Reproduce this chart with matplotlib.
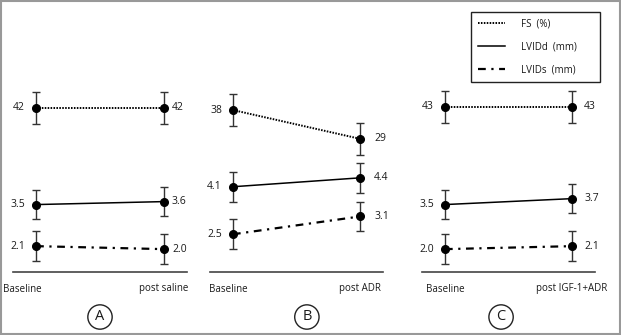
import numpy as np
import matplotlib
matplotlib.use("Agg")
import matplotlib.pyplot as plt
from matplotlib.lines import Line2D
from matplotlib.patches import Rectangle

plt.rcParams['font.family'] = ['Open Sans', 'DejaVu Sans']
plt.rcParams['font.size'] = 7

# data
panels = ['A', 'B', 'C']
post_labels = ['post saline', 'post ADR', 'post IGF-1+ADR']
fs = [[42, 42], [38, 29], [43, 43]]            # FS (%)
lvidd = [[3.5, 3.6], [4.1, 4.4], [3.5, 3.7]]   # LVIDd (mm)
lvids = [[2.1, 2.0], [2.5, 3.1], [2.0, 2.1]]   # LVIDs (mm)
fs_err = 5.0
mm_err = 0.5

# layout (figure pixels: left, right of the baseline rule)
px_w, px_h = 621, 335
rules = [(13, 187), (210, 383), (422, 595)]
rule_y, top_y = 272, 10
fs_lims = [(-9.25, 72.6), (-12.6, 69.25), (-8.6, 73.3)]
mm_lim = (1.23, 10.05)
right_off = [8, 14, 12]
left_lab_off = [-14, -5, 0]
circle_x = [0.50, 0.56, 0.457]

ink = '#1a1a1a'
fs_style = dict(linestyle=(0, (0.8, 0.7)), linewidth=1.4)
d_style = dict(linestyle='-', linewidth=1.1)
s_style = dict(linestyle=(0, (3.5, 2.5, 1, 2.5)), linewidth=1.6)

fig = plt.figure(figsize=(px_w / 100, px_h / 100), dpi=100)
fig.patches.append(Rectangle((0.0015, 0.003), 0.997, 0.994, transform=fig.transFigure,
                             fill=False, ec='#999999', lw=1.5))

x = [0, 1]
for i, (l, r) in enumerate(rules):
    ax = fig.add_axes([l / px_w, (px_h - rule_y) / px_h, (r - l) / px_w,
                       (rule_y - top_y) / px_h])
    ax2 = ax.twinx()
    for a in (ax, ax2):
        a.set_xlim(-0.18, 1.18)
        a.set_xticks([])
        a.set_yticks([])
        for s in a.spines.values():
            s.set_visible(False)
        a.patch.set_visible(False)
    ax.spines['bottom'].set_visible(True)
    ax.spines['bottom'].set_color('#444444')
    ax.spines['bottom'].set_linewidth(1.2)
    ax.set_ylim(*mm_lim)
    ax2.set_ylim(*fs_lims[i])

    eb = dict(color='black', marker='o', markersize=5.5, ecolor='#333333',
              elinewidth=1.0, capsize=3, capthick=1.0)
    ax2.errorbar(x, fs[i], yerr=fs_err, **fs_style, **eb)
    ax.errorbar(x, lvidd[i], yerr=mm_err, **d_style, **eb)
    ax.errorbar(x, lvids[i], yerr=mm_err, **s_style, **eb)

    for a, vals, fmt in ((ax2, fs[i], '{:d}'), (ax, lvidd[i], '{:.1f}'),
                         (ax, lvids[i], '{:.1f}')):
        a.annotate(fmt.format(vals[0]), (0, vals[0]), xytext=(-11, 0),
                   textcoords='offset pixels', ha='right', va='center', color=ink,
                   fontsize=7.5)
        a.annotate(fmt.format(vals[1]), (1, vals[1]), xytext=(right_off[i], 0),
                   textcoords='offset pixels', ha='left', va='center', color=ink,
                   fontsize=7.5)

    ax.annotate('Baseline', (0, mm_lim[0]), xytext=(left_lab_off[i], -17),
                textcoords='offset pixels', ha='center', va='center', color=ink)
    ax.annotate(post_labels[i], (1, mm_lim[0]), xytext=(0, -17),
                textcoords='offset pixels', ha='center', va='center', color=ink)
    ax.text(circle_x[i], -45 / (rule_y - top_y), panels[i], transform=ax.transAxes,
            ha='center', va='center', fontsize=10.5, color=ink,
            bbox=dict(boxstyle='circle,pad=0.32', fc='white', ec='#222222', lw=1.0))

handles = [Line2D([], [], color='black', **fs_style),
           Line2D([], [], color='black', **d_style),
           Line2D([], [], color='black', **s_style)]
leg = fig.legend(handles, ['FS  (%)', 'LVIDd  (mm)', 'LVIDs  (mm)'],
                 bbox_to_anchor=(471 / px_w, (px_h - 81) / px_h, 129 / px_w, 69 / px_h),
                 loc='upper left', mode='expand', borderaxespad=0, fancybox=False,
                 edgecolor='#222222', framealpha=1, handlelength=2.8,
                 handletextpad=1.6, labelspacing=1.2, borderpad=0.7, fontsize=7)
leg.get_frame().set_linewidth(1.0)
for t in leg.get_texts():
    t.set_color(ink)

fig.savefig('out.png', dpi=100)
